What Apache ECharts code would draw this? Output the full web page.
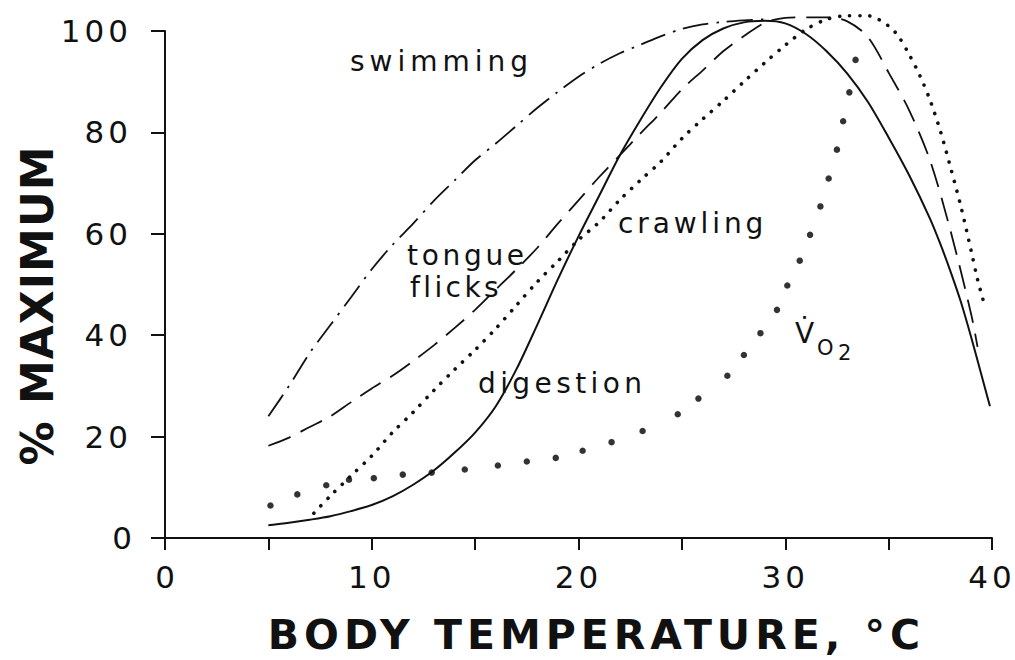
<!DOCTYPE html>
<html>
<head>
<meta charset="utf-8">
<script src="https://cdn.jsdelivr.net/npm/echarts@6/dist/echarts.min.js"></script>
<style>
  html, body { margin: 0; padding: 0; background: #fff; }
  #chart { width: 1015px; height: 660px; }
</style>
</head>
<body>
<div id="chart"></div>
<script>
// body temperature (°C) vs % of maximum performance
const swimTemps = [5, 6, 7, 8, 9, 10, 11, 12, 13, 14, 15, 16, 17, 18, 19, 20, 21, 22, 23, 24, 25, 26, 27, 28, 29];
const swimValues = [24, 30, 36.5, 42, 47.5, 53, 57.8, 62, 66.5, 70.5, 74.5, 77.8, 81.3, 84.8, 88, 91, 93.5, 95.6, 97.3, 99, 100.4, 101.3, 101.8, 102.1, 102.3];

const tongueTemps = [5, 6, 7, 8, 9, 10, 11, 12, 13, 14, 15, 16, 17, 18, 19, 20, 21, 22, 23, 24, 25, 26, 27, 28, 29, 30, 31, 32, 33, 34, 35, 36, 37, 38, 39, 39.3];
const tongueValues = [18.2, 19.8, 21.9, 24, 26.8, 29.5, 32, 34.9, 38, 41.4, 45, 49, 53, 57.2, 62, 66.6, 71.2, 75.5, 79.8, 84, 88.5, 92.2, 96, 99, 101.6, 102.6, 102.7, 102.7, 101.9, 98.8, 91.8, 84.3, 74.5, 60.5, 44, 37.7];

const crawlTemps = [7.2, 8, 9, 10, 11, 12, 13, 14, 15, 16, 17, 18, 19, 20, 21, 22, 23, 24, 25, 26, 27, 28, 29, 30, 31, 32, 33, 34, 35, 35.5, 36, 36.5, 37, 37.5, 38, 38.5, 39, 39.3, 39.6];
const crawlValues = [4.9, 8.3, 12.3, 16.2, 20.8, 24.8, 29.1, 33.2, 37.1, 41.3, 45.9, 50.5, 54.6, 58.8, 62.3, 66.7, 70.6, 74.3, 78.8, 82.6, 86.2, 90, 93.7, 97.2, 100.3, 102.3, 103, 103, 101, 98.8, 95.3, 91.3, 86.4, 80.3, 73, 65.3, 56.5, 51, 46.5];

const digestTemps = [5, 6, 7, 8, 9, 10, 11, 12, 13, 14, 15, 16, 17, 18, 19, 20, 21, 22, 23, 24, 25, 26, 27, 28, 29, 30, 31, 32, 33, 34, 35, 36, 37, 37.5, 38, 38.5, 39, 39.5, 39.9];
const digestValues = [2.5, 3, 3.6, 4.3, 5.3, 6.5, 8.2, 10.5, 13.3, 16.8, 20.8, 26, 33.3, 42, 51, 59.5, 67.5, 75.5, 82.5, 89, 94.5, 98.2, 100.5, 101.7, 102, 101.5, 99.4, 96, 91.6, 86, 79, 71.5, 63, 58, 52.5, 46.5, 39.5, 32, 26];

const vo2Temps = [5.1, 6.4, 7.8, 8.9, 10.1, 11.5, 12.9, 14.5, 16.1, 17.5, 18.9, 20.2, 21.6, 23.1, 24.8, 25.8, 27.2, 28, 28.8, 29.6, 30.1, 30.7, 31.2, 31.7, 32.1, 32.5, 32.8, 33.1, 33.4];
const vo2Values = [6.4, 8.6, 10.4, 11.5, 11.8, 12.5, 12.9, 13.5, 14.3, 15.1, 15.8, 17.2, 18.9, 21.1, 24.4, 27.5, 32, 36.1, 40.4, 45, 49.8, 54.7, 59.8, 65.4, 70.9, 76.6, 82.2, 87.9, 94.3];

const xTicks = [0, 10, 20, 30, 40];

const FONT = '"DejaVu Sans", sans-serif';
const INK = '#111';

function pairs(xs, ys) {
  return xs.map((x, i) => [x, ys[i]]);
}

function label(text, x, y, size) {
  return {
    type: 'text', x: x, y: y, silent: true,
    style: {
      text: text, fill: INK, fontSize: size, fontFamily: FONT,
      align: 'left', verticalAlign: 'middle',
      textAlign: 'left', textVerticalAlign: 'middle'
    }
  };
}

const chart = echarts.init(document.getElementById('chart'), null, { renderer: 'svg' });

chart.setOption({
  animation: false,
  backgroundColor: '#fff',
  grid: { left: 165, right: 23, top: 31, bottom: 117, containLabel: false },
  xAxis: {
    type: 'value', min: 0, max: 40, interval: 5,
    name: 'BODY TEMPERATURE, °C',
    nameLocation: 'middle', nameGap: 76,
    nameTextStyle: { color: INK, fontFamily: FONT, fontSize: 41, fontWeight: 'bold', padding: [0, 0, 0, 36] },
    axisLine: { lineStyle: { color: INK, width: 2 } },
    axisTick: { length: 12, lineStyle: { color: INK, width: 2 } },
    axisLabel: {
      margin: 23, color: INK, fontFamily: FONT, fontSize: 31,
      formatter: v => (xTicks.indexOf(v) >= 0 ? String(v) : '')
    },
    splitLine: { show: false }
  },
  yAxis: {
    type: 'value', min: 0, max: 100, interval: 20,
    name: '% MAXIMUM',
    nameLocation: 'middle', nameGap: 106,
    nameTextStyle: { color: INK, fontFamily: FONT, fontSize: 44, fontWeight: 'bold', padding: [0, 42, 0, 0] },
    axisLine: { lineStyle: { color: INK, width: 2 } },
    axisTick: { length: 14, lineStyle: { color: INK, width: 2 } },
    axisLabel: { margin: 33, color: INK, fontFamily: FONT, fontSize: 31 },
    splitLine: { show: false }
  },
  series: [
    {
      name: 'swimming', type: 'line', data: pairs(swimTemps, swimValues),
      smooth: 0.3, symbol: 'none', clip: false,
      lineStyle: { color: INK, width: 1.8, type: [26, 8, 2.5, 8] }
    },
    {
      name: 'tongue flicks', type: 'line', data: pairs(tongueTemps, tongueValues),
      smooth: 0.3, symbol: 'none', clip: false,
      lineStyle: { color: INK, width: 1.8, type: [24, 11] }
    },
    {
      name: 'crawling', type: 'line', data: pairs(crawlTemps, crawlValues),
      smooth: 0.3, symbol: 'none', clip: false,
      lineStyle: { color: INK, width: 3.6, type: [0.1, 10], cap: 'round' }
    },
    {
      name: 'digestion', type: 'line', data: pairs(digestTemps, digestValues),
      smooth: 0.3, symbol: 'none', clip: false,
      lineStyle: { color: INK, width: 2 }
    },
    {
      name: 'VO2', type: 'scatter', data: pairs(vo2Temps, vo2Values),
      symbol: 'circle', symbolSize: 6.5, clip: false,
      itemStyle: { color: '#000' }
    }
  ],
  graphic: [
    label('swimming', 350, 61, 28),
    label('tongue', 407, 255, 28),
    label('flicks', 410, 287, 28),
    label('crawling', 618, 223, 28),
    label('digestion', 478, 383, 28),
    label('V\u0307', 795, 333, 28),
    label('O', 817, 348, 21),
    label('2', 838, 353, 21)
  ]
});

// widen letter spacing like the original lettering
const spacing = {
  'swimming': 5, 'tongue': 3.7, 'flicks': 3.4, 'crawling': 3.9, 'digestion': 4.4,
  'BODY TEMPERATURE, °C': 5, '% MAXIMUM': 1
};
function spaceText() {
  document.querySelectorAll('#chart svg text').forEach(t => {
    const s = t.textContent;
    let ls = spacing[s];
    if (ls == null && /^\d+$/.test(s) && s.length > 1) ls = 4;
    if (ls) t.setAttribute('letter-spacing', ls + 'px');
  });
}
spaceText();
chart.on('finished', spaceText);
</script>
</body>
</html>
